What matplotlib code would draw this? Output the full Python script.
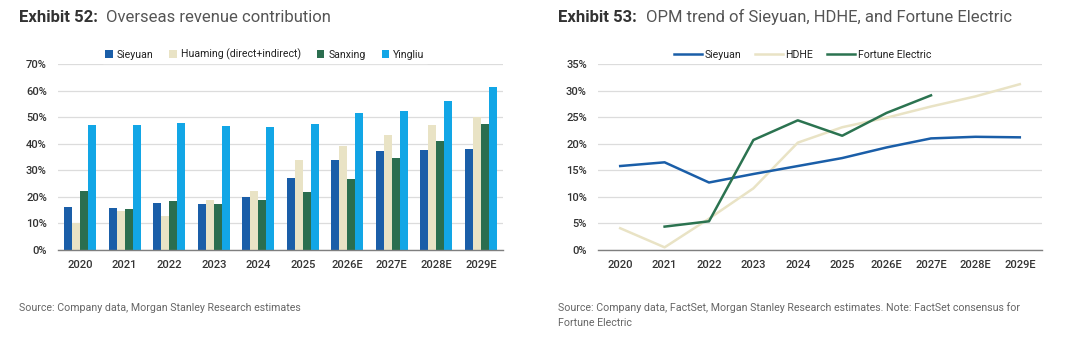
import matplotlib
matplotlib.use("Agg")
import matplotlib.pyplot as plt
import numpy as np

plt.rcParams['font.family'] = ['Roboto', 'DejaVu Sans']

categories = ["2020", "2021", "2022", "2023", "2024", "2025", "2026E", "2027E", "2028E", "2029E"]

# Exhibit 52: overseas revenue contribution (%)
sieyuan_rev = [16.3, 15.8, 17.6, 17.2, 20.1, 27.1, 33.7, 37.1, 37.5, 38.0]
huaming_rev = [10.2, 14.5, 12.9, 18.9, 22.1, 33.9, 39.0, 43.1, 46.9, 50.2]
sanxing_rev = [22.1, 15.6, 18.3, 17.3, 18.9, 21.9, 26.9, 34.8, 41.1, 47.4]
yingliu_rev = [47.0, 47.0, 47.7, 46.8, 46.3, 47.4, 51.4, 52.2, 56.1, 61.4]

# Exhibit 53: OPM trend (%)
sieyuan_opm = [15.8, 16.5, 12.7, 14.3, 15.8, 17.3, 19.3, 21.0, 21.3, 21.2]
hdhe_opm = [4.1, 0.5, 5.9, 11.6, 20.2, 23.1, 24.9, 27.0, 28.9, 31.2]
fortune_opm = [None, 4.4, 5.4, 20.7, 24.4, 21.5, 25.8, 29.1, None, None]

c_sie = "#1a5ea8"
c_hua = "#e9e3c5"
c_san = "#2b6e4f"
c_yin = "#12a6e6"
grid_c = "#dcdcdc"
tick_c = "#333333"

fig = plt.figure(figsize=(10.8, 3.51), dpi=100)

def style_axes(ax, ymax, step):
    ax.set_xlim(-0.5, len(categories) - 0.5)
    ax.set_ylim(0, ymax)
    ax.set_yticks(np.arange(0, ymax + 0.01, step))
    ax.set_yticklabels([f"{int(v)}%" for v in np.arange(0, ymax + 0.01, step)])
    ax.set_xticks(range(len(categories)))
    ax.set_xticklabels(categories)
    for s in ["top", "right", "left"]:
        ax.spines[s].set_visible(False)
    ax.spines["bottom"].set_color("#7f7f7f")
    ax.spines["bottom"].set_linewidth(1.0)
    ax.yaxis.grid(True, color=grid_c, linewidth=0.9)
    ax.set_axisbelow(True)
    ax.tick_params(axis="both", length=0, colors=tick_c, labelsize=8)
    ax.tick_params(axis="x", pad=7)
    ax.tick_params(axis="y", pad=8)
    for lab in ax.get_xticklabels() + ax.get_yticklabels():
        lab.set_fontweight("medium")

# Left chart
ax1 = fig.add_axes([58/1080, 1-250/351, 445/1080, 186/351])
x = np.arange(len(categories))
w = 0.18
series = [("Sieyuan", sieyuan_rev, c_sie), ("Huaming (direct+indirect)", huaming_rev, c_hua),
          ("Sanxing", sanxing_rev, c_san), ("Yingliu", yingliu_rev, c_yin)]
for i, (name, vals, col) in enumerate(series):
    ax1.bar(x + (i - 1.5) * w, vals, width=w, color=col, label=name, zorder=2)
style_axes(ax1, 70, 10)
leg1 = ax1.legend(loc="center", bbox_to_anchor=(0.465, 1.05), ncol=4, frameon=True,
                  fontsize=7.6, handlelength=0.7, handleheight=0.7, handletextpad=0.4,
                  columnspacing=1.5, borderpad=0.2, fancybox=False)
leg1.get_frame().set_facecolor("white")
leg1.get_frame().set_edgecolor("white")
for t in leg1.get_texts():
    t.set_color("#222222")

# Right chart
ax2 = fig.add_axes([598/1080, 1-250/351, 444/1080, 186/351])
fx = [i for i, v in enumerate(fortune_opm) if v is not None]
fy = [v for v in fortune_opm if v is not None]
ax2.plot(x, sieyuan_opm, color=c_sie, lw=1.8, label="Sieyuan", zorder=3)
ax2.plot(x, hdhe_opm, color=c_hua, lw=1.8, label="HDHE", zorder=2)
ax2.plot(fx, fy, color="#2b7350", lw=1.8, label="Fortune Electric", zorder=4)
style_axes(ax2, 35, 5)
leg2 = ax2.legend(loc="center", bbox_to_anchor=(0.46, 1.05), ncol=3, frameon=True,
                  fontsize=7.6, handlelength=2.7, handletextpad=0.2,
                  columnspacing=1.3, borderpad=0.2, fancybox=False)
leg2.get_frame().set_facecolor("white")
leg2.get_frame().set_edgecolor("white")
for t in leg2.get_texts():
    t.set_color("#222222")

# Titles
fig.text(19/1080, 1-17/351, "Exhibit 52:", fontsize=12, fontweight="bold", color="#333333", va="center", ha="left")
fig.text(106/1080, 1-17/351, "Overseas revenue contribution", fontsize=12, color="#555555", va="center", ha="left")
fig.text(558/1080, 1-17/351, "Exhibit 53:", fontsize=12, fontweight="bold", color="#333333", va="center", ha="left")
fig.text(646/1080, 1-17/351, "OPM trend of Sieyuan, HDHE, and Fortune Electric", fontsize=12, color="#555555", va="center", ha="left")

# Sources
fig.text(19/1080, 1-308/351, "Source: Company data, Morgan Stanley Research estimates", fontsize=7.7, color="#666666", va="center", ha="left")
fig.text(558/1080, 1-308/351, "Source: Company data, FactSet, Morgan Stanley Research estimates. Note: FactSet consensus for", fontsize=7.7, color="#666666", va="center", ha="left")
fig.text(558/1080, 1-323/351, "Fortune Electric", fontsize=7.7, color="#666666", va="center", ha="left")

fig.savefig("out.png", dpi=100, facecolor="white")
